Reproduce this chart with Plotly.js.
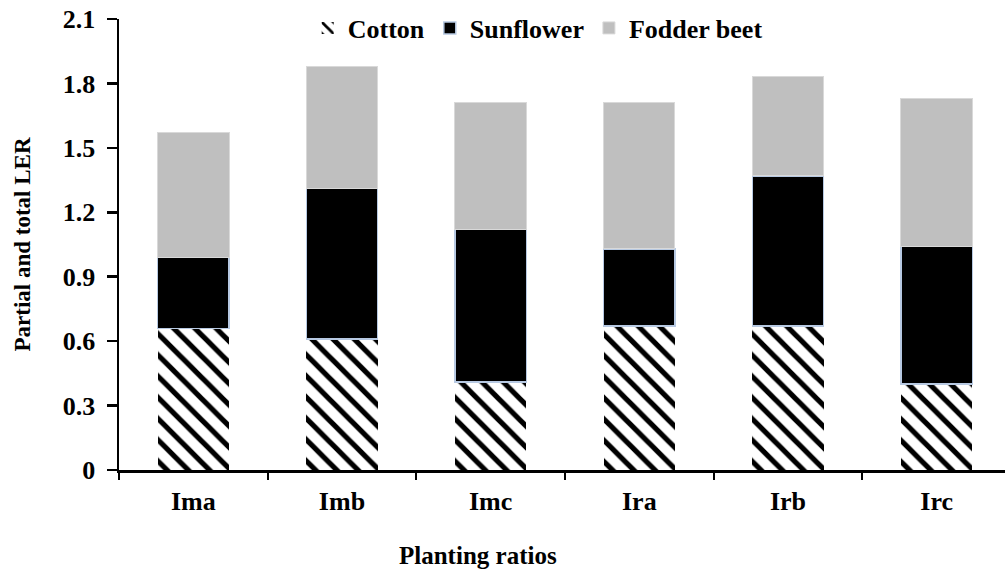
<!DOCTYPE html>
<html><head><meta charset="utf-8">
<script src="https://cdn.plot.ly/plotly-3.0.1.min.js"></script>
<style>html,body{margin:0;padding:0;background:#fff;}#chart{width:1005px;height:576px;}</style>
</head><body><div id="chart"></div>
<script>
const categories = ["Ima", "Imb", "Imc", "Ira", "Irb", "Irc"];
const cotton = [0.66, 0.61, 0.41, 0.67, 0.67, 0.40];
const sunflower = [0.33, 0.70, 0.71, 0.36, 0.70, 0.64];
const fodderBeet = [0.58, 0.57, 0.59, 0.68, 0.46, 0.69];
const yTicks = [0, 0.3, 0.6, 0.9, 1.2, 1.5, 1.8, 2.1];
const yTickText = ["0", "0.3", "0.6", "0.9", "1.2", "1.5", "1.8", "2.1"];

const FONT = "Liberation Serif";
const traces = [
  {type: "bar", name: "Cotton", x: categories, y: cotton, width: 0.48,
   marker: {color: "#ffffff", line: {width: 0},
            pattern: {shape: "\\", fgcolor: "#000000", bgcolor: "#ffffff", fgopacity: 1, size: 15, solidity: 0.35, fillmode: "replace"}}},
  {type: "bar", name: "Sunflower", x: categories, y: sunflower, width: 0.48,
   marker: {color: "#000000", line: {color: "#b7c9e2", width: 1.5}}},
  {type: "bar", name: "Fodder beet", x: categories, y: fodderBeet, width: 0.48,
   marker: {color: "#bfbfbf", line: {color: "#d9d9d9", width: 1}}}
];

const layout = {
  width: 1005, height: 576,
  margin: {l: 119, r: 0, t: 19, b: 106},
  paper_bgcolor: "#ffffff", plot_bgcolor: "#ffffff",
  barmode: "stack",
  font: {family: FONT, size: 20, color: "#000"},
  showlegend: true,
  legend: {orientation: "h", x: 0.213, xanchor: "left", y: 0.98, yanchor: "middle",
           font: {family: FONT, size: 26, color: "#000", weight: "bold"},
           traceorder: "normal", itemclick: false, bgcolor: "rgba(0,0,0,0)"},
  xaxis: {type: "category", range: [-0.5, 5.46], showline: true, linecolor: "#000", linewidth: 2.5,
          ticks: "outside", tickson: "boundaries", ticklen: 7, tickwidth: 2, tickcolor: "#000",
          ticklabelstandoff: 6,
          showgrid: false, zeroline: false,
          tickfont: {family: FONT, size: 26, weight: "bold"}},
  yaxis: {range: [0, 2.1], tickvals: yTicks, ticktext: yTickText, showline: true, linecolor: "#000", linewidth: 2.5,
          ticks: "outside", ticklen: 10, tickwidth: 2.5, tickcolor: "#000",
          ticklabelstandoff: 6,
          showgrid: false, zeroline: false,
          tickfont: {family: FONT, size: 26, weight: "bold"},
          title: {text: "Partial and total LER", standoff: 26, font: {family: FONT, size: 23, weight: "bold"}}},
  annotations: [{text: "Planting ratios", xref: "paper", yref: "paper", x: 0.405, y: -0.19,
                 xanchor: "center", yanchor: "middle", showarrow: false,
                 font: {family: FONT, size: 25, weight: "bold", color: "#000"}}]
};
Plotly.newPlot("chart", traces, layout, {displayModeBar: false, staticPlot: true});
</script></body></html>
